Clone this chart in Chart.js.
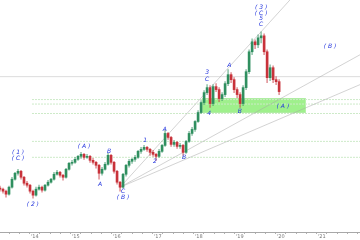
<!DOCTYPE html>
<html>
<head>
<meta charset="utf-8">
<script src="https://cdn.jsdelivr.net/npm/chart.js@4"></script>
<style>
  html, body { margin: 0; padding: 0; background: #fff; }
  #wrap { width: 360px; height: 240px; }
</style>
</head>
<body>
<div id="wrap"><canvas id="waveChart" width="360" height="240"></canvas></div>
<script>
// candles, roughly monthly, first one at 2013.15
const startYear = 2013.15;
const stepYear = 0.0732;
const firstOpen = 44;
const close = [43, 41, 38, 45, 53, 59, 61, 55, 49, 47, 41, 37, 43, 45, 42, 47, 50, 53, 58, 60,
  57, 55, 63, 69, 70, 73, 76, 78, 75, 76, 72, 70, 67, 59, 63, 68, 77, 70, 61, 50,
  45, 58, 67, 71, 73, 75, 81, 83, 85, 83, 80, 78, 76, 81, 87, 99, 95, 88, 90, 86,
  87, 80, 91, 99, 103, 111, 120, 130, 140, 145, 129, 146, 143, 134, 138, 149, 158, 153, 143, 138,
  129, 145, 161, 181, 191, 188, 195, 197, 181, 155, 165, 153, 151, 141];
const high = [46, 44, 42, 46, 55, 60, 63, 62, 56, 51, 48, 42, 45, 47, 46, 48, 52, 54, 60, 62,
  61, 58, 64, 70, 72, 75, 77, 80, 79, 78, 77, 74, 71, 68, 65, 70, 79, 78, 71, 62,
  51, 59, 68, 73, 74, 77, 82, 85, 87, 86, 84, 82, 79, 83, 88, 102, 100, 96, 92, 91,
  89, 88, 92, 101, 105, 112, 122, 132, 142, 148, 147, 148, 149, 145, 140, 151, 163, 160, 155, 145,
  140, 147, 163, 183, 194, 193, 198, 201, 199, 183, 168, 167, 156, 153];
const low = [41, 39, 35, 37, 44, 52, 57, 53, 47, 45, 39, 34, 36, 42, 40, 41, 46, 49, 52, 57,
  55, 52, 54, 62, 67, 69, 72, 74, 73, 74, 70, 68, 64, 53, 57, 62, 67, 68, 59, 48,
  41, 44, 56, 65, 69, 71, 74, 79, 82, 81, 77, 76, 72, 75, 80, 86, 93, 86, 86, 84,
  84, 77, 79, 90, 97, 101, 110, 119, 128, 138, 125, 127, 141, 131, 132, 136, 147, 150, 140, 135,
  125, 127, 143, 159, 178, 184, 185, 190, 178, 150, 152, 150, 148, 138];

// reference levels
const greyLevel = 156;
const greenLevels = [133, 128.5, 119, 91, 75];
const greenStart = 2013.93;
const boxYears = [2018.08, 2020.61];
const boxValues = [120, 134];

// fan from the (B) low
const fanOrigin = { x: 2016.08, y: 45 };
const fanEnds = [
  { x: 2020.22, y: 233 },
  { x: 2021.93, y: 178 },
  { x: 2021.93, y: 148 },
];

// wave labels
const waveText = ["( 1 )", "( C )", "( 2 )", "( A )", "A", "B", "C", "( B )", "1", "2", "A", "B",
  "3", "C", "4", "A", "B", "( 3 )", "( C )", "5", "C", "( B )", "( A )"];
const waveX = [2013.59, 2013.59, 2013.95, 2015.20, 2015.59, 2015.81, 2016.15, 2016.15, 2016.69, 2016.93, 2017.17, 2017.64,
  2018.20, 2018.20, 2018.25, 2018.74, 2019.00, 2019.52, 2019.52, 2019.52, 2019.52, 2021.20, 2020.05];
const waveY = [80, 74, 28, 86, 48, 81, 41, 35, 92, 71, 103, 75,
  160, 153, 119, 167, 121, 226, 220, 214, 208, 186, 126];

const xMin = 2013.15;
const xMax = 2021.93;

// build candle data
const bodies = [];
const wicks = [];
const colors = [];
const wickColors = [];
close.forEach((c, i) => {
  const o = i === 0 ? firstOpen : close[i - 1];
  const x = startYear + i * stepYear;
  bodies.push({ x: x, y: [o, c] });
  wicks.push({ x: x, y: [low[i], high[i]] });
  colors.push(c >= o ? "#2f8f5f" : "#c8323a");
  wickColors.push(c >= o ? "rgba(47,143,95,0.5)" : "rgba(200,50,58,0.5)");
});

function lineSet(points, color, width, dash) {
  return {
    type: "line",
    data: points,
    borderColor: color,
    borderWidth: width,
    borderDash: dash || [],
    pointRadius: 0,
    fill: false,
    tension: 0,
  };
}

const datasets = [
  { data: bodies, backgroundColor: colors, barThickness: 2, borderWidth: 0, grouped: false },
  { data: wicks, backgroundColor: wickColors, barThickness: 1, borderWidth: 0, grouped: false },
];
fanEnds.forEach((e) => {
  datasets.push(lineSet([fanOrigin, e], "rgba(165,165,165,0.7)", 0.7));
});
datasets.push(lineSet([{ x: xMin, y: greyLevel }, { x: xMax, y: greyLevel }], "#dcdcdc", 1));
greenLevels.forEach((v) => {
  datasets.push(lineSet([{ x: greenStart, y: v }, { x: xMax, y: v }], "#cdeac8", 1, [2, 1]));
});
// green zone
datasets.push(lineSet([{ x: boxYears[0], y: boxValues[0] }, { x: boxYears[1], y: boxValues[0] }], "#8fe07e", 0.5));
datasets.push(Object.assign(
  lineSet([{ x: boxYears[0], y: boxValues[1] }, { x: boxYears[1], y: boxValues[1] }], "#8fe07e", 0.5),
  { fill: "-1", backgroundColor: "#9ff08c" }
));

// draw the wave labels at data positions
const wavePlugin = {
  id: "waveLabels",
  afterDatasetsDraw(chart) {
    const ctx = chart.ctx;
    const xs = chart.scales.x;
    const ys = chart.scales.y;
    ctx.save();
    ctx.font = 'italic 6px "DejaVu Sans"';
    ctx.fillStyle = "#2233dd";
    ctx.textAlign = "center";
    ctx.textBaseline = "middle";
    waveText.forEach((t, i) => {
      ctx.fillText(t, xs.getPixelForValue(waveX[i]), ys.getPixelForValue(waveY[i]));
    });
    ctx.restore();
  },
};

new Chart(document.getElementById("waveChart"), {
  type: "bar",
  data: { datasets: datasets },
  options: {
    responsive: false,
    animation: false,
    layout: { padding: 0 },
    plugins: { legend: { display: false }, tooltip: { enabled: false } },
    scales: {
      x: {
        type: "linear",
        offset: false,
        min: xMin,
        max: xMax,
        grid: { drawOnChartArea: false, drawTicks: true, tickLength: 2, color: "#b0b0b0" },
        border: { color: "#a8a8a8" },
        ticks: {
          stepSize: 0.25,
          includeBounds: false,
          autoSkip: false,
          maxRotation: 0,
          padding: 0,
          color: "#777",
          font: { size: 5, family: "DejaVu Sans" },
          callback: (v) => (Math.abs(v - Math.round(v)) < 1e-6 ? "'" + String(Math.round(v)).slice(2) : ""),
        },
      },
      y: {
        type: "linear",
        display: false,
        min: 0,
        max: 233,
      },
    },
  },
  plugins: [wavePlugin],
});
</script>
</body>
</html>
